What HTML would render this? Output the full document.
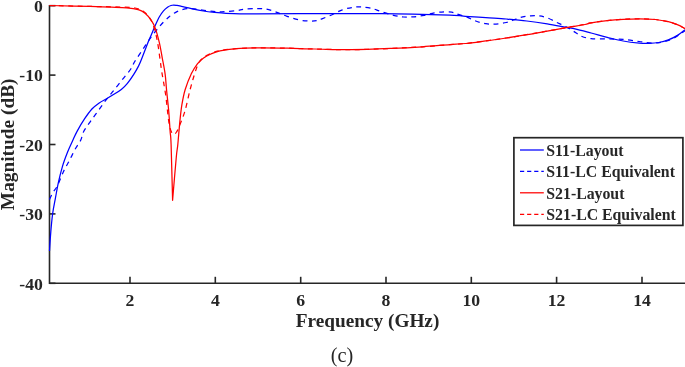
<!DOCTYPE html>
<html><head><meta charset="utf-8"><title>S-parameters</title>
<style>
html,body{margin:0;padding:0;background:#fff;}
body{width:685px;height:367px;overflow:hidden;position:relative;font-family:"Liberation Serif",serif;}
svg{position:absolute;left:0;top:0;display:block}
text{font-family:"Liberation Serif",serif;fill:#262626}
.b{font-weight:bold}
</style></head><body>
<svg width="685" height="367" viewBox="0 0 685 367">
<rect width="685" height="367" fill="#fff"/>
<g stroke="#262626" stroke-width="1.6" fill="none">
<path d="M49.5,4.9V283.3H685"/>
<path d="M130.0,283.3v-6.5"/>
<path d="M215.3,283.3v-6.5"/>
<path d="M300.7,283.3v-6.5"/>
<path d="M386.0,283.3v-6.5"/>
<path d="M471.3,283.3v-6.5"/>
<path d="M556.6,283.3v-6.5"/>
<path d="M642.0,283.3v-6.5"/>
<path d="M49.5,5.7h6"/>
<path d="M49.5,75.1h6"/>
<path d="M49.5,144.5h6"/>
<path d="M49.5,213.9h6"/>
<path d="M49.5,283.3h6"/>
</g>
<g fill="none" stroke-width="1.25" stroke-linejoin="round">
<path d="M49.5,251.0C49.7,247.8 50.3,238.2 50.8,232.0C51.3,225.8 51.9,219.4 52.6,214.0C53.3,208.6 54.2,204.5 55.2,199.3C56.2,194.1 57.1,188.4 58.3,182.9C59.5,177.4 60.9,171.7 62.4,166.6C63.9,161.5 65.8,156.6 67.5,152.3C69.2,148.0 70.9,144.5 72.5,141.0C74.1,137.5 75.2,134.8 77.2,131.1C79.2,127.4 82.0,122.6 84.5,118.9C87.0,115.2 89.5,111.7 91.9,109.0C94.4,106.3 96.8,104.6 99.2,102.9C101.7,101.2 104.1,100.1 106.6,98.7C109.0,97.3 111.5,95.8 113.9,94.3C116.4,92.8 119.0,91.2 121.3,89.4C123.5,87.6 125.4,85.8 127.4,83.3C129.5,80.8 131.8,77.6 133.6,74.7C135.4,71.8 137.2,68.6 138.5,66.1C139.8,63.6 140.0,63.2 141.4,59.6C142.8,56.0 145.8,48.1 147.2,44.5C148.6,40.9 148.7,40.8 150.0,37.8C151.3,34.8 153.3,29.9 154.8,26.5C156.3,23.1 157.7,19.9 159.1,17.3C160.5,14.7 162.0,12.5 163.5,10.8C165.0,9.1 166.7,7.9 167.9,7.0C169.2,6.1 170.0,5.8 171.0,5.5C172.0,5.2 172.8,5.1 173.8,5.0C174.8,5.0 175.7,5.2 177.0,5.4C178.3,5.6 179.8,6.0 181.4,6.4C183.1,6.8 185.1,7.2 186.9,7.6C188.7,8.0 189.7,8.2 192.4,8.8C195.1,9.4 199.7,10.4 203.3,11.0C207.0,11.6 210.5,12.0 214.3,12.4C218.1,12.8 221.8,13.2 226.1,13.4C230.4,13.6 234.9,13.8 240.0,13.8C245.1,13.9 244.3,13.9 256.8,13.9C269.3,13.9 294.2,13.7 315.0,13.7C335.8,13.7 359.0,13.5 381.5,13.7C404.0,13.9 436.0,14.7 450.0,15.1C464.0,15.5 459.4,15.9 465.4,16.3C471.4,16.7 479.1,17.2 485.9,17.6C492.7,18.1 499.5,18.4 506.3,19.0C513.1,19.6 520.0,20.2 526.8,21.0C533.6,21.8 540.4,22.8 547.2,23.9C554.0,25.0 563.0,26.8 567.6,27.6C572.2,28.4 571.1,28.0 575.0,28.9C578.9,29.8 585.7,31.6 591.1,33.0C596.5,34.4 601.9,36.0 607.2,37.3C612.6,38.6 617.9,40.0 623.2,41.0C628.6,42.0 635.0,42.7 639.3,43.1C643.6,43.5 645.8,43.5 649.0,43.4C652.2,43.3 655.4,43.1 658.6,42.5C661.8,41.9 665.1,41.1 668.3,39.9C671.5,38.7 675.1,36.8 677.9,35.1C680.7,33.4 683.8,30.7 685.0,29.8" stroke="#0000ff"/>
<path d="M49.5,199.5C50.1,198.2 51.9,194.2 53.2,192.0C54.5,189.8 55.6,189.4 57.3,186.0C59.0,182.6 61.4,176.0 63.4,171.7C65.4,167.4 67.5,164.3 69.5,160.4C71.5,156.5 73.8,151.6 75.7,148.2C77.6,144.8 79.5,142.8 80.8,140.0C82.1,137.2 82.3,134.3 83.8,131.3C85.3,128.3 87.6,125.5 90.0,122.1C92.4,118.7 95.4,114.7 98.1,110.9C100.8,107.2 103.6,103.2 106.3,99.6C109.0,96.0 111.8,92.8 114.5,89.4C117.2,86.0 120.0,82.6 122.7,79.2C125.4,75.8 128.8,72.0 130.8,69.0C132.8,66.0 132.9,64.6 134.9,61.3C136.9,58.0 140.4,53.1 143.1,49.0C145.8,44.9 148.6,40.5 151.3,36.8C154.0,33.1 157.1,29.3 159.4,26.6C161.7,23.9 163.3,22.3 165.0,20.6C166.7,18.9 168.0,17.8 169.4,16.6C170.8,15.4 172.2,14.4 173.5,13.6C174.8,12.8 175.7,12.2 177.0,11.6C178.3,11.0 179.8,10.4 181.4,9.9C183.1,9.4 185.1,8.8 186.9,8.6C188.7,8.4 190.2,8.6 192.0,8.7C193.8,8.8 195.1,9.0 197.9,9.4C200.7,9.8 205.5,10.6 208.8,11.0C212.1,11.4 214.7,11.7 217.6,11.8C220.5,11.9 223.0,11.7 226.3,11.5C229.6,11.3 234.3,11.0 237.3,10.6C240.3,10.2 240.9,9.5 244.1,9.2C247.3,8.9 252.6,8.6 256.4,8.6C260.1,8.6 263.2,8.6 266.6,9.2C270.0,9.8 273.4,11.1 276.8,12.3C280.2,13.5 283.4,15.0 287.1,16.3C290.9,17.6 295.6,19.2 299.3,20.0C303.0,20.8 306.6,20.9 309.5,21.0C312.4,21.1 314.6,21.0 316.7,20.6C318.8,20.2 319.3,19.8 321.9,18.8C324.5,17.8 328.7,16.2 332.1,14.7C335.5,13.2 339.0,11.0 342.4,9.8C345.8,8.6 349.6,7.9 352.6,7.4C355.7,6.9 357.6,6.8 360.7,6.9C363.8,7.0 367.6,7.4 371.0,8.2C374.4,9.0 377.4,10.4 381.2,11.6C384.9,12.8 389.8,14.4 393.5,15.3C397.2,16.2 400.3,16.8 403.7,17.0C407.1,17.2 410.5,17.1 413.9,16.8C417.3,16.5 420.7,16.0 424.1,15.3C427.5,14.7 430.9,13.5 434.3,12.9C437.7,12.3 441.6,12.0 444.5,11.9C447.4,11.8 449.6,11.9 451.7,12.2C453.8,12.5 454.3,13.1 456.9,13.9C459.5,14.7 464.0,16.0 467.1,17.2C470.2,18.4 472.6,19.9 475.7,21.0C478.8,22.1 482.5,23.2 485.9,23.7C489.3,24.2 492.7,24.3 496.1,24.1C499.5,23.9 503.2,23.2 506.3,22.5C509.4,21.8 511.8,20.6 514.5,19.6C517.2,18.7 520.0,17.4 522.7,16.8C525.4,16.2 528.1,16.0 530.8,15.8C533.5,15.7 536.3,15.6 539.0,15.9C541.7,16.2 544.1,16.7 547.2,17.8C550.3,18.9 554.0,21.1 557.4,22.7C560.8,24.3 564.5,25.9 567.6,27.6C570.7,29.3 573.5,31.3 575.8,32.7C578.1,34.1 578.8,35.2 581.4,36.2C584.0,37.2 586.8,38.2 591.1,38.6C595.4,39.0 601.9,38.8 607.2,38.9C612.6,39.0 617.9,39.0 623.2,39.4C628.6,39.8 634.5,40.9 639.3,41.5C644.1,42.1 648.5,43.0 652.2,43.1C656.0,43.2 658.6,42.7 661.8,42.1C665.0,41.5 668.5,40.6 671.5,39.4C674.5,38.1 677.2,36.1 679.5,34.6C681.8,33.1 684.1,31.3 685.0,30.6" stroke="#0000ff" stroke-dasharray="4.9,4.5"/>
<path d="M49.5,5.5C56.2,5.7 77.1,6.0 90.0,6.4C102.9,6.8 118.5,7.2 126.7,7.8C134.9,8.4 135.9,8.9 139.0,9.8C142.1,10.7 143.0,11.5 145.1,13.3C147.2,15.1 149.6,17.8 151.3,20.4C153.0,22.9 154.1,24.9 155.4,28.6C156.8,32.4 158.2,37.8 159.4,42.9C160.6,48.0 161.5,54.0 162.5,59.3C163.5,64.6 164.5,69.4 165.2,74.6C165.9,79.8 166.0,84.4 166.6,90.4C167.2,96.5 168.1,104.1 168.7,110.9C169.3,117.7 169.7,125.7 170.1,131.3C170.5,136.9 170.7,133.1 171.1,144.6C171.5,156.1 172.3,191.0 172.6,200.3C173.2,193.1 175.4,166.3 176.3,157.0C177.2,147.7 177.2,150.6 177.8,144.6C178.4,138.6 179.2,127.8 179.9,121.1C180.6,114.4 181.0,110.0 181.9,104.7C182.8,99.4 183.6,94.7 185.2,89.5C186.8,84.3 189.3,78.1 191.3,73.8C193.3,69.5 195.4,66.4 197.4,63.8C199.4,61.2 201.3,59.6 203.6,58.0C205.8,56.4 208.2,55.2 210.9,54.0C213.6,52.8 215.8,51.8 220.0,50.9C224.2,50.0 230.2,49.2 236.3,48.7C242.4,48.2 248.3,48.0 256.8,47.9C265.3,47.8 277.7,48.0 287.4,48.2C297.1,48.4 304.4,48.8 315.0,49.0C325.6,49.2 338.1,49.8 350.9,49.7C363.7,49.6 379.9,48.9 391.8,48.4C403.7,47.9 412.7,47.4 422.4,46.8C432.1,46.2 442.8,45.1 450.0,44.6C457.2,44.1 459.4,44.1 465.4,43.5C471.4,42.9 479.1,41.8 485.9,40.9C492.7,40.0 499.5,39.0 506.3,38.0C513.1,37.0 520.0,35.9 526.8,34.7C533.6,33.6 540.4,32.3 547.2,31.1C554.0,29.9 561.3,28.5 567.6,27.4C573.9,26.3 581.1,25.3 585.0,24.5C588.9,23.7 587.4,23.4 591.1,22.8C594.8,22.2 601.9,21.2 607.2,20.6C612.6,20.0 617.9,19.6 623.2,19.3C628.6,19.0 633.9,18.8 639.3,18.8C644.7,18.8 650.6,19.0 655.4,19.5C660.2,20.0 664.5,20.8 668.3,21.7C672.0,22.6 675.1,23.8 677.9,24.9C680.7,26.0 683.8,28.0 685.0,28.6" stroke="#ff0000"/>
<path d="M49.5,5.5C56.2,5.7 78.2,6.2 90.0,6.4C101.8,6.7 112.5,6.7 120.0,7.0C127.5,7.3 131.2,7.3 135.0,8.0C138.8,8.7 140.7,9.5 143.0,11.0C145.3,12.5 147.2,14.5 149.0,17.0C150.8,19.5 152.1,21.8 153.5,26.0C154.9,30.2 156.2,34.7 157.5,42.0C158.8,49.3 160.2,61.2 161.5,70.0C162.8,78.8 164.4,86.0 165.6,94.5C166.8,103.0 167.8,114.9 168.7,121.0C169.6,127.1 170.2,128.8 171.0,131.0C171.8,133.2 172.9,134.2 173.8,134.4C174.7,134.6 175.7,133.2 176.5,132.0C177.3,130.8 177.5,130.7 178.9,127.2C180.3,123.7 183.2,117.1 185.0,110.9C186.8,104.7 188.4,96.0 190.0,90.0C191.6,84.0 193.0,79.0 194.4,74.6C195.8,70.2 196.9,66.3 198.5,63.4C200.1,60.5 201.8,58.7 204.0,57.0C206.2,55.3 209.0,54.3 211.7,53.2C214.4,52.1 215.9,51.4 220.0,50.6C224.1,49.9 230.2,49.2 236.3,48.7C242.4,48.2 248.3,48.0 256.8,47.9C265.3,47.8 277.7,48.0 287.4,48.2C297.1,48.4 304.4,48.8 315.0,49.0C325.6,49.2 338.1,49.8 350.9,49.7C363.7,49.6 379.9,48.9 391.8,48.4C403.7,47.9 412.7,47.4 422.4,46.8C432.1,46.2 442.8,45.1 450.0,44.6C457.2,44.1 459.4,44.1 465.4,43.5C471.4,42.9 479.1,41.8 485.9,40.9C492.7,40.0 499.5,39.0 506.3,38.0C513.1,37.0 520.0,35.9 526.8,34.7C533.6,33.6 540.4,32.3 547.2,31.1C554.0,29.9 561.3,28.5 567.6,27.4C573.9,26.3 581.1,25.3 585.0,24.5C588.9,23.7 587.4,23.4 591.1,22.8C594.8,22.2 601.9,21.2 607.2,20.6C612.6,20.0 617.9,19.6 623.2,19.3C628.6,19.0 633.9,18.8 639.3,18.8C644.7,18.8 650.6,19.0 655.4,19.5C660.2,20.0 664.5,20.8 668.3,21.7C672.0,22.6 675.1,23.8 677.9,24.9C680.7,26.0 683.8,28.0 685.0,28.6" stroke="#ff0000" stroke-dasharray="4.9,4.5"/>
</g>
<g class="b" font-size="17.7" text-anchor="middle">
<text x="130.0" y="305.6">2</text>
<text x="215.3" y="305.6">4</text>
<text x="300.7" y="305.6">6</text>
<text x="386.0" y="305.6">8</text>
<text x="471.3" y="305.6">10</text>
<text x="556.6" y="305.6">12</text>
<text x="642.0" y="305.6">14</text>
</g>
<g class="b" font-size="17.7" text-anchor="end">
<text x="42.9" y="11.9">0</text>
<text x="42.9" y="81.3">-10</text>
<text x="42.9" y="150.7">-20</text>
<text x="42.9" y="220.1">-30</text>
<text x="42.9" y="289.5">-40</text>
</g>
<text class="b" font-size="19.25" text-anchor="middle" x="367.6" y="327.4">Frequency (GHz)</text>
<text class="b" font-size="19.35" text-anchor="middle" transform="translate(14.3,144.3) rotate(-90)">Magnitude (dB)</text>
<text font-size="20.3" text-anchor="middle" x="341.9" y="362">(c)</text>
<rect x="513.9" y="137.7" width="169" height="87.7" fill="#fff" stroke="#262626" stroke-width="1.7"/>
<g stroke-width="1.25" fill="none">
<path d="M520,150H543.8" stroke="#0000ff"/>
<path d="M520,171.4H543.8" stroke="#0000ff" stroke-dasharray="4.2,2.9"/>
<path d="M520,192.8H543.8" stroke="#ff0000"/>
<path d="M520,214.3H543.8" stroke="#ff0000" stroke-dasharray="4.2,2.9"/>
</g>
<g class="b" font-size="15.8">
<text x="546.3" y="155.6">S11-Layout</text>
<text x="546.3" y="177.1">S11-LC Equivalent</text>
<text x="546.3" y="198.5">S21-Layout</text>
<text x="546.3" y="220">S21-LC Equivalent</text>
</g>
</svg>
</body></html>
